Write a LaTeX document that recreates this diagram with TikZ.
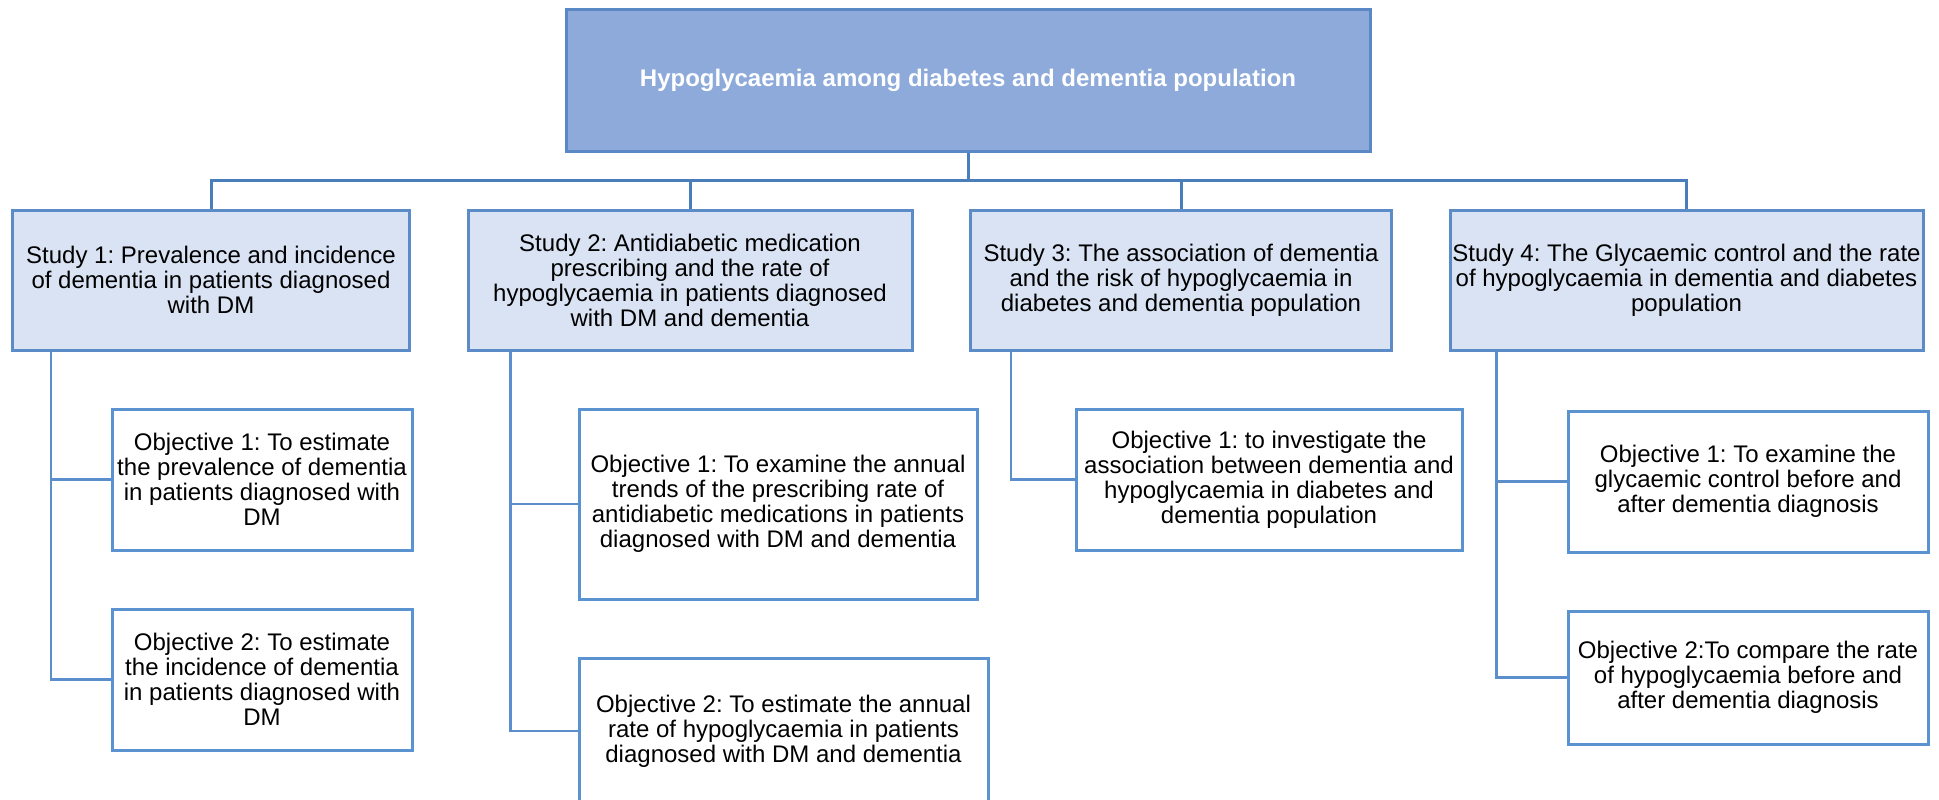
\documentclass[tikz,border=0pt]{standalone}
\usepackage{fontspec}
\setmainfont{Liberation Sans}
\frenchspacing
\definecolor{topfill}{HTML}{8EAADB}
\definecolor{topdraw}{HTML}{5A88C4}
\definecolor{studyfill}{HTML}{DAE3F3}
\definecolor{studydraw}{HTML}{5B8CC8}
\definecolor{objdraw}{HTML}{5B92D0}
\definecolor{busline}{HTML}{4A7EBB}
\definecolor{subline}{HTML}{5B8FCB}
\tikzset{
  base/.style={rectangle, inner sep=0pt, align=center, font=\fontsize{24}{25}\selectfont},
  topbox/.style={base, fill=topfill, draw=topdraw, line width=3pt, text=white, font=\fontsize{24}{25}\selectfont\bfseries},
  studybox/.style={base, fill=studyfill, draw=studydraw, line width=3pt},
  objbox/.style={base, fill=white, draw=objdraw, line width=3pt},
  busconn/.style={draw=busline, line width=3pt},
  subconn/.style={draw=subline, line width=2.6pt},
}
\begin{document}
\begin{tikzpicture}[x=1pt,y=-1pt]
\clip (0,0) rectangle (1939,800);
\fill[white] (0,0) rectangle (1939,800);

\node[topbox, minimum width=804pt, minimum height=141pt] (top) at (968,80.5) {Hypoglycaemia among diabetes and dementia population};

\node[studybox, minimum width=397pt, minimum height=140pt] (s1) at (211,280) {Study 1: Prevalence and incidence\\of dementia in patients diagnosed\\with DM};
\node[studybox, minimum width=444pt, minimum height=140pt] (s2) at (690,280) {Study 2: Antidiabetic medication\\prescribing and the rate of\\hypoglycaemia in patients diagnosed\\with DM and dementia};
\node[studybox, minimum width=421pt, minimum height=140pt] (s3) at (1181,280) {Study 3: The association of dementia\\and the risk of hypoglycaemia in\\diabetes and dementia population};
\node[studybox, minimum width=473pt, minimum height=140pt] (s4) at (1686.5,280) {Study 4: The Glycaemic control and the rate\\of hypoglycaemia in dementia and diabetes\\population};

\node[objbox, minimum width=300pt, minimum height=141pt] (o11) at (262,479.5) {Objective 1: To estimate\\the prevalence of dementia\\in patients diagnosed with\\DM};
\node[objbox, minimum width=300pt, minimum height=141pt] (o12) at (262,679.5) {Objective 2: To estimate\\the incidence of dementia\\in patients diagnosed with\\DM};
\node[objbox, minimum width=398pt, minimum height=190pt] (o21) at (778,504) {Objective 1: To examine the annual\\trends of the prescribing rate of\\antidiabetic medications in patients\\diagnosed with DM and dementia};
\node[objbox, minimum width=409pt, minimum height=146pt] (o22) at (783.5,731) {Objective 2: To estimate the annual\\rate of hypoglycaemia in patients\\diagnosed with DM and dementia};
\node[objbox, minimum width=386pt, minimum height=141pt] (o31) at (1269,479.5) {Objective 1: to investigate the\\association between dementia and\\hypoglycaemia in diabetes and\\dementia population};
\node[objbox, minimum width=360pt, minimum height=141pt] (o41) at (1748,481.5) {Objective 1: To examine the\\glycaemic control before and\\after dementia diagnosis};
\node[objbox, minimum width=360pt, minimum height=133pt] (o42) at (1748,677.5) {Objective 2:To compare the rate\\of hypoglycaemia before and\\after dementia diagnosis};

\coordinate (bus) at (968,180);
\draw[busconn] (top.south) -- (bus);
\draw[busconn] (s1.north) -- (s1.north |- bus) -- (s4.north |- bus) -- (s4.north);
\draw[busconn] (s2.north) -- (s2.north |- bus);
\draw[busconn] (s3.north) -- (s3.north |- bus);

\draw[subconn] ([xshift=40pt]s1.south west) |- (o11.west);
\draw[subconn] ([xshift=40pt]s1.south west) |- (o12.west);
\draw[subconn] ([xshift=44pt]s2.south west) |- (o21.west);
\draw[subconn] ([xshift=44pt]s2.south west) |- (o22.west);
\draw[subconn] ([xshift=42pt]s3.south west) |- (o31.west);
\draw[subconn] ([xshift=48pt]s4.south west) |- (o41.west);
\draw[subconn] ([xshift=48pt]s4.south west) |- (o42.west);
\end{tikzpicture}
\end{document}
